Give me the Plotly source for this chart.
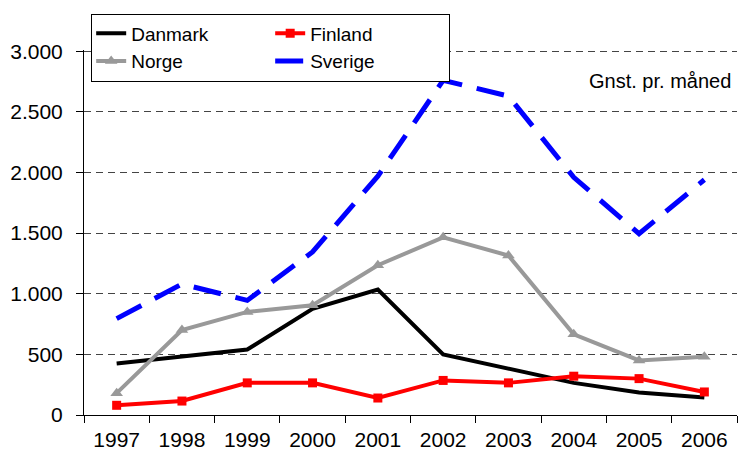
import plotly.graph_objects as go

years = ['1997', '1998', '1999', '2000', '2001', '2002', '2003', '2004', '2005', '2006']
danmark = [425, 480, 540, 875, 1035, 500, 385, 265, 185, 145]
finland = [80, 115, 265, 265, 140, 285, 265, 320, 300, 190]
norge = [180, 700, 850, 905, 1235, 1465, 1315, 665, 450, 480]
sverige = [795, 1080, 945, 1345, 1970, 2760, 2630, 1960, 1495, 1940]

FONT = "Liberation Sans, Arial, sans-serif"

fig = go.Figure()
fig.add_trace(go.Scatter(x=years, y=danmark, name="Danmark", mode="lines",
                         line=dict(color="#000000", width=4), legendgroup="a"))
fig.add_trace(go.Scatter(x=years, y=finland, name="Finland", mode="lines+markers",
                         line=dict(color="#FF0000", width=4),
                         marker=dict(symbol="square", size=9, color="#FF0000"),
                         legendgroup="b"))
fig.add_trace(go.Scatter(x=years, y=norge, name="Norge", mode="lines+markers",
                         line=dict(color="#999999", width=4),
                         marker=dict(symbol="triangle-up", size=11, color="#999999"),
                         legendgroup="a"))
fig.add_trace(go.Scatter(x=years, y=sverige, name="Sverige", mode="lines",
                         line=dict(color="#0000FF", width=5, dash="28px,15px"),
                         legendgroup="b"))

fig.update_layout(
    width=742, height=458,
    margin=dict(l=84, r=5, t=50, b=43, autoexpand=False),
    paper_bgcolor="white", plot_bgcolor="white",
    font=dict(family=FONT, size=21, color="black"),
    separators=",.",
    showlegend=True,
    legend=dict(
        orientation="h", traceorder="grouped",
        x=0.011, xanchor="left", y=1.10, yanchor="top",
        bordercolor="black", borderwidth=1, bgcolor="white",
        font=dict(family=FONT, size=19, color="black"),
        entrywidth=134, entrywidthmode="pixels",
        tracegroupgap=0, itemwidth=30,
    ),
    xaxis=dict(
        type="category", showgrid=False, automargin=False,
        showline=True, linecolor="black", linewidth=1,
        ticks="outside", tickson="boundaries", ticklen=7, tickcolor="black",
        tickfont=dict(family=FONT, size=21, color="black"),
        ticklabelstandoff=6,
        range=[-0.5, 9.5],
    ),
    yaxis=dict(
        range=[0, 3010], dtick=500, tickformat=",d", automargin=False,
        showgrid=True, gridcolor="#444444", gridwidth=1, griddash="7px,5px",
        showline=True, linecolor="black", linewidth=1,
        ticks="outside", ticklen=7, tickcolor="black",
        tickfont=dict(family=FONT, size=21, color="black"),
        ticklabelstandoff=9,
        zeroline=False,
    ),
    annotations=[dict(
        text="Gnst. pr. måned", xref="paper", yref="paper",
        x=1, y=0.914, xanchor="right", yanchor="middle", xshift=-4,
        showarrow=False, font=dict(family=FONT, size=20, color="black"),
    )],
)

fig.write_html("out.html", config={"displayModeBar": False},
               post_script="document.body.style.margin='0';")
